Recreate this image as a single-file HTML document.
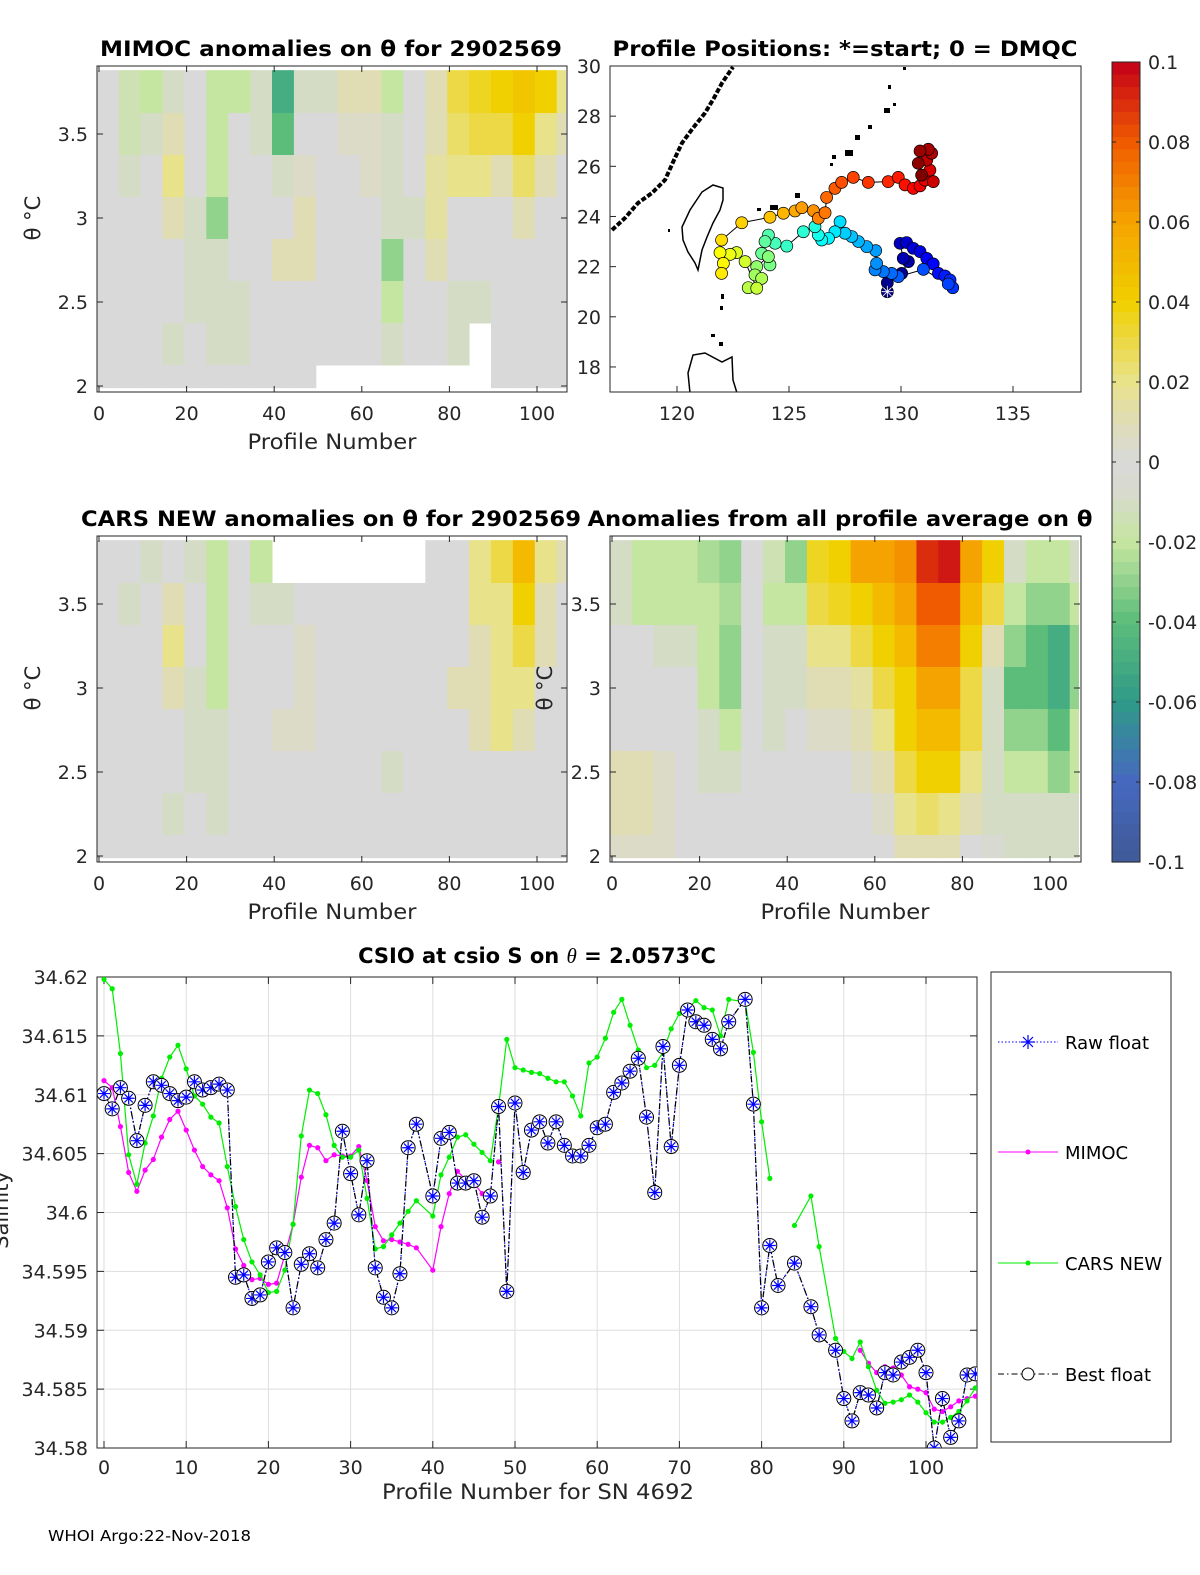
<!DOCTYPE html>
<html><head><meta charset="utf-8"><style>
body{margin:0;background:#fff}
svg{display:block;font-family:"DejaVu Sans","Liberation Sans",sans-serif}
.t{font-size:19px;fill:#262626}
.ttl{font-size:21px;font-weight:bold;fill:#000}
</style></head><body>
<svg id="fig" width="1200" height="1575" viewBox="0 0 1200 1575">
<defs>
<clipPath id="c1"><rect x="97" y="66" width="470" height="326"/></clipPath>
<clipPath id="c2"><rect x="97" y="536" width="470" height="326"/></clipPath>
<clipPath id="c4"><rect x="610" y="536" width="471" height="326"/></clipPath>
<clipPath id="cm"><rect x="610" y="66" width="471" height="326"/></clipPath>
<clipPath id="cb"><rect x="97" y="977" width="880" height="471"/></clipPath>
</defs>
<g id="heat1" clip-path="url(#c1)"></g>
<g id="heat2" clip-path="url(#c2)"></g>
<g id="heat4" clip-path="url(#c4)"></g>
<g id="ax1"></g>
<g id="ax2"></g>
<g id="ax4"></g>
<g id="map">
 <g clip-path="url(#cm)" fill="none" stroke="#000" stroke-width="1.5">
  <polyline points="612,230 625,218 638,203 652,193 665,180 674,160 682,143 693,128 705,113 714,98 722,83 733,67" stroke-width="4" stroke-dasharray="5,2"/>
  <polygon points="713,185 723,188 723,200 720,210 713,223 707,237 702,250 698,270 695,263 688,252 683,240 682,227 690,210 702,192"/>
  <polyline points="690,393 688,373 693,355 705,353 722,362 732,357 733,380 737,393"/>
  <g fill="#000" stroke="none">
   <rect x="903" y="67" width="3" height="3"/><rect x="888" y="85" width="3" height="4"/><rect x="893" y="103" width="3" height="3"/>
   <rect x="884" y="108" width="6" height="5"/><rect x="868" y="125" width="4" height="4"/><rect x="855" y="135" width="5" height="5"/>
   <rect x="845" y="150" width="8" height="6"/><rect x="832" y="155" width="4" height="4"/><rect x="830" y="163" width="3" height="3"/>
   <rect x="795" y="193" width="5" height="5"/><rect x="770" y="205" width="8" height="5"/><rect x="757" y="208" width="4" height="3"/>
   <rect x="721" y="294" width="3" height="5"/><rect x="720" y="306" width="3" height="4"/><rect x="711" y="334" width="4" height="3"/><rect x="719" y="342" width="4" height="4"/><rect x="668" y="229" width="2" height="3"/>
  </g>
 </g>
 <g id="track" clip-path="url(#cm)"></g>
</g>
<g id="cbar"></g>
<g id="bottom"></g>
<text x="48" y="1541" font-size="15" fill="#000" textLength="203" lengthAdjust="spacingAndGlyphs">WHOI Argo:22-Nov-2018</text>
</svg>
<script>
// ---------- heatmap data (anomaly x100, row-major top->bottom) ----------
const colEdges=[-0.5,4.5,9.5,14.5,19.5,24.5,29.5,34.5,39.5,44.5,49.5,54.5,59.5,64.5,69.5,74.5,79.5,84.5,89.5,94.5,99.5,104.5,106.5];
const rowEdges=[3.88,3.625,3.375,3.125,2.875,2.625,2.375,2.125,1.99];
const mimocGrid=[
[0,-1.5,-2,-1,0,-2,-2,-1,-5,-1,-1,1,1,-2,0,1,3,3.5,4,4.5,4,2],
[0,-1.5,-1,1,0,-2,0,-1,-4,0,0,0.5,0.5,-1,0,1,2.5,3,3,4,2,1],
[0,-1,0,2,0,-2,0,0,-1,0.5,0,0,0.5,-1,0,1.5,2,2,1,2.5,1,0],
[0,0,0,1,-1,-3,0,0,0,1,0,0,0,-1,-1,1.5,0,0,0,1,0,0],
[0,0,0,0,-1,-1,0,0,1,1,0,0,0,-3,0,1,0,0,0,0,0,0],
[0,0,0,0,-1,-1,-1,0,0,0,0,0,0,-2,0,0,-1,-1,0,0,0,0],
[0,0,0,-1,0,-1,-1,0,0,0,0,0,0,-1,0,0,-1,null,0,0,0,0],
[0,0,0,0,0,0,0,0,0,0,null,null,null,null,null,null,null,null,0,0,0,0]];
const carsGrid=[
[0,0,-1,0,-1,-2,0,-2,null,null,null,null,null,null,null,0,0,2,3,5,2,1],
[0,-1,0,1,0,-2,0,-1,-1,0,0,0,0,0,0,0,0,2,2,4,1,0],
[0,0,0,2,0,-2,0,0,0,0.5,0,0,0,0,0,0,0,1,2,3,1,0],
[0,0,0,1,-1,-2,0,0,0,0.5,0,0,0,0,0,0,1,1,2,2,0,0],
[0,0,0,0,-1,-1,0,0,0.5,0.5,0,0,0,0,0,0,0,1,2,1,0,0],
[0,0,0,0,-1,-1,0,0,0,0,0,0,0,-1,0,0,0,0,0,0,0,0],
[0,0,0,-1,0,-1,0,0,0,0,0,0,0,0,0,0,0,0,0,0,0,0],
[0,0,0,0,0,0,0,0,0,0,0,0,0,0,0,0,0,0,0,0,0,0]];
const allGrid=[
[-1,-2,-2,-2,-2.5,-3,0,-1.5,-3,3.5,4,6,6,6.5,9,9.5,6,4,-1,-2,-2,-1],
[-1,-2,-2,-2,-2,-2.5,0,-2,-2,3,3.5,4,5,6,8,8,5,3,-2,-3,-3,-2],
[0,0,-1,-1,-2,-3,0,-1,-1,2,2,3,4,5,7,7,4,1,-3,-4,-5,-3],
[0,0,0,0,-2,-3,0,-1,-1,1,1,1.5,3,4,6,6,3,-1,-4,-4,-5,-3],
[0,0,0,0,-1,-2,0,-1,0,0.5,0.5,1,2,4,5,5,3,-1,-3,-3,-4,-2],
[1,1,0.5,0,-1,-1,0,0,0,0,0,0.5,1,3,4,4,2,-1,-2,-2,-3,-2],
[1,1,0.5,0,0,0,0,0,0,0,0,0,0.5,2,2.5,2,1,-1,-1,-1,-1,-1],
[0.5,0.5,0.5,0,0,0,0,0,0,0,0,0,0,1,1,1,0,-0.5,-1,-1,-1,-1]];
// ---------- track data ----------
const trackLon=[129.39,129.39,130.03,130.33,130.10,129.96,130.25,130.55,130.85,131.15,131.44,131.67,131.96,132.19,132.31,132.11,131.00,129.88,129.58,129.21,128.84,128.91,128.87,128.47,128.10,127.80,127.50,127.28,127.05,126.76,126.46,126.31,126.16,125.64,124.90,124.38,124.08,123.93,123.78,124.15,124.08,123.56,123.48,123.78,123.18,123.56,123.04,122.66,122.37,121.92,122.07,121.99,121.99,122.89,124.15,124.75,125.27,125.57,126.09,126.31,126.61,126.68,127.05,127.35,127.87,128.54,129.43,129.88,130.18,130.55,130.85,131.07,131.29,131.44,131.15,131.37,131.22,130.85,130.77,130.92];
const trackLat=[21.00,21.36,21.73,22.20,22.33,22.93,22.96,22.73,22.60,22.33,22.11,21.73,21.63,21.47,21.16,21.31,21.89,21.60,21.73,21.80,21.87,22.13,22.64,22.80,23.00,23.20,23.33,23.79,23.39,23.13,23.06,23.26,23.59,23.39,22.82,22.93,23.26,23.00,22.53,22.07,22.40,22.00,21.67,21.53,21.16,21.14,22.20,22.56,22.49,22.56,22.13,21.73,23.06,23.75,23.97,24.13,24.22,24.35,24.23,23.93,24.15,24.76,25.12,25.36,25.56,25.36,25.39,25.56,25.26,25.12,25.22,25.45,25.85,25.39,26.25,26.52,26.68,26.61,26.12,25.65];
// ---------- salinity chart data ----------
const profiles=[0,1,2,3,4,5,6,7,8,9,10,11,12,13,14,15,16,17,18,19,20,21,22,23,24,25,26,27,28,29,30,31,32,33,34,35,36,37,38,40,41,42,43,44,45,46,47,48,49,50,51,52,53,54,55,56,57,58,59,60,61,62,63,64,65,66,67,68,69,70,71,72,73,74,75,76,78,79,80,81,82,84,86,87,89,90,91,92,93,94,95,96,97,98,99,100,101,102,103,104,105,106];
const bestFloat=[34.6101,34.6088,34.6106,34.6097,34.6061,34.6091,34.6111,34.6108,34.6101,34.6095,34.6098,34.6111,34.6104,34.6106,34.6109,34.6104,34.5945,34.5947,34.5927,34.5930,34.5958,34.5970,34.5966,34.5919,34.5956,34.5965,34.5953,34.5977,34.5991,34.6069,34.6033,34.5998,34.6044,34.5953,34.5928,34.5919,34.5948,34.6055,34.6075,34.6014,34.6063,34.6068,34.6025,34.6025,34.6027,34.5996,34.6014,34.6090,34.5933,34.6093,34.6034,34.6070,34.6077,34.6059,34.6077,34.6057,34.6048,34.6048,34.6057,34.6072,34.6075,34.6102,34.6110,34.6120,34.6131,34.6081,34.6017,34.6141,34.6056,34.6125,34.6172,34.6162,34.6159,34.6147,34.6139,34.6162,34.6181,34.6092,34.5919,34.5972,34.5938,34.5957,34.5920,34.5896,34.5883,34.5842,34.5823,34.5847,34.5845,34.5834,34.5864,34.5862,34.5873,34.5877,34.5883,34.5864,34.5800,34.5842,34.5809,34.5823,34.5862,34.5863];
const mimoc=[34.6112,34.6106,34.6073,34.6034,34.6018,34.6036,34.6045,34.6064,34.6079,34.6086,34.6070,34.6053,34.6039,34.6032,34.6027,34.6004,34.5969,34.5955,34.5943,34.5944,34.5939,34.5940,34.5964,34.5990,34.6030,34.6057,34.6055,34.6044,34.6049,34.6048,34.6048,34.6056,34.6027,34.5988,34.5976,34.5977,34.5975,34.5973,34.5970,34.5951,34.5988,34.6016,34.6035,34.6028,34.6025,34.6016,null,34.6043,null,null,null,null,null,null,null,null,null,null,null,null,null,null,null,null,null,null,null,null,null,null,null,null,null,null,null,null,null,null,null,null,null,null,null,null,null,null,null,34.5883,34.5872,34.5864,34.5869,34.5868,34.5862,34.5852,34.5850,34.5847,34.5833,34.5831,34.5835,34.5840,34.5842,34.5844];
const carsNew=[34.6198,34.6190,34.6135,34.6049,34.6024,34.6059,34.6082,34.6114,34.6132,34.6142,34.6122,34.6099,34.6092,34.6081,34.6076,34.6039,34.6005,34.5977,34.5958,34.5947,34.5932,34.5933,34.5951,34.5990,34.6065,34.6104,34.6101,34.6083,34.6057,34.6047,34.6047,34.6053,34.6012,34.5969,34.5971,34.5981,34.5991,34.6001,34.6010,34.5997,34.6032,34.6047,34.6064,34.6066,34.6058,34.6051,34.6044,34.6090,34.6147,34.6123,34.6121,34.6119,34.6118,34.6114,34.6111,34.6111,34.6099,34.6082,34.6127,34.6132,34.6148,34.6170,34.6181,34.6159,34.6138,34.6123,34.6125,34.6136,34.6156,34.6169,34.6173,34.6180,34.6174,34.6172,34.6150,34.6181,34.6179,34.6136,34.6077,34.6029,null,34.5989,34.6014,34.5971,34.5893,34.5882,34.5876,34.5890,34.5869,34.5849,34.5838,34.5839,34.5841,34.5845,34.5839,34.5830,34.5822,34.5822,34.5826,34.5831,34.5840,34.5851];
const salTicks=[34.58,34.585,34.59,34.595,34.6,34.605,34.61,34.615,34.62];
const profTicks=[0,10,20,30,40,50,60,70,80,90,100];
const heatTicksX=[0,20,40,60,80,100];
const thetaTicks=[2,2.5,3,3.5];
const cbTicks=[0.1,0.08,0.06,0.04,0.02,0,-0.02,-0.04,-0.06,-0.08,-0.1];
const lonTicks=[120,125,130,135];
const latTicks=[18,20,22,24,26,28,30];

const NS='http://www.w3.org/2000/svg';
function mk(tag,attrs,parent,txt){const e=document.createElementNS(NS,tag);for(const k in attrs)e.setAttribute(k,attrs[k]);if(txt!==undefined)e.textContent=txt;parent.appendChild(e);return e;}
const anchors=[[-0.1,[63,90,150]],[-0.08,[70,104,192]],[-0.06,[47,154,136]],[-0.04,[92,189,122]],[-0.02,[197,230,160]],[-0.008,[215,218,205]],[0,[217,217,217]],[0.008,[222,220,190]],[0.02,[232,226,138]],[0.04,[240,208,0]],[0.06,[245,163,0]],[0.08,[240,90,0]],[0.1,[196,0,26]]];
function cmap(v){v=Math.max(-0.1,Math.min(0.1,v));for(let i=0;i<anchors.length-1;i++){const a=anchors[i],b=anchors[i+1];if(v<=b[0]){const t=(v-a[0])/(b[0]-a[0]);const c=a[1].map((x,j)=>Math.round(x+(b[1][j]-x)*t));return 'rgb('+c.join(',')+')';}}return 'rgb(196,0,26)';}

function heat(gid,grid,x0,ybase){
 const g=document.getElementById(gid);
 const xs=p=>x0+4.38*p, ys=t=>ybase-(t-2)*168;
 for(let r=0;r<grid.length;r++)for(let c=0;c<grid[r].length;c++){
  const v=grid[r][c]; if(v===null)continue;
  const x1=xs(colEdges[c]),x2=xs(colEdges[c+1]),y1=ys(rowEdges[r]),y2=ys(rowEdges[r+1]);
  const rc=mk('rect',{x:x1,y:y1,width:x2-x1+0.5,height:y2-y1+0.5,fill:cmap(v/100)},g);
  
  
 }
}
heat('heat1',mimocGrid,99,386);
heat('heat2',carsGrid,99,856);
heat('heat4',allGrid,612,856);

function heatAxes(gid,bx,by,x0,ybase,title,tx,tw,ylabX,tickX){
 const g=document.getElementById(gid);
 mk('rect',{x:bx,y:by,width:470,height:326,fill:'none',stroke:'#262626','stroke-width':1},g);
 heatTicksX.forEach(p=>{const x=x0+4.38*p;mk('line',{x1:x,x2:x,y1:by+326,y2:by+320,stroke:'#262626'},g);mk('line',{x1:x,x2:x,y1:by,y2:by+6,stroke:'#262626'},g);
  const t=mk('text',{x:x,y:by+354,'text-anchor':'middle',class:'t'},g,String(p));});
 thetaTicks.forEach(v=>{const y=ybase-(v-2)*168;mk('line',{x1:bx,x2:bx+6,y1:y,y2:y,stroke:'#262626'},g);mk('line',{x1:bx+470,x2:bx+464,y1:y,y2:y,stroke:'#262626'},g);
  const t=mk('text',{x:tickX,y:y+7,'text-anchor':'end',class:'t'},g,String(v));});
 const xl=mk('text',{x:bx+235,y:by+383,'text-anchor':'middle','font-size':21,fill:'#262626',textLength:169,lengthAdjust:'spacingAndGlyphs'},g,'Profile Number');
 const tt=mk('text',{x:tx,y:by-10,'text-anchor':'middle',class:'ttl',textLength:tw,lengthAdjust:'spacingAndGlyphs'},g,title);
 const yl=mk('text',{x:ylabX,y:ybase-168,'text-anchor':'middle','font-size':21,fill:'#262626',transform:'rotate(-90 '+ylabX+' '+(ybase-168)+')'},g,'θ °C');
}
heatAxes('ax1',97,66,99,386,'MIMOC anomalies on θ  for 2902569',331,462,40,88);
heatAxes('ax2',97,536,99,856,'CARS NEW anomalies on θ for 2902569',331,500,40,88);
heatAxes('ax4',610,536,612,856,'Anomalies from all profile average on θ',840,505,552,601);
document.querySelector('#ax4 rect').setAttribute('width',471);

(function(){
 const g=document.getElementById('map');
 const lx=l=>677+(l-120)*22.4, ly=l=>66+(30-l)*25.08;
 mk('rect',{x:610,y:66,width:471,height:326,fill:'none',stroke:'#262626'},g);
 lonTicks.forEach(v=>{const x=lx(v);mk('line',{x1:x,x2:x,y1:392,y2:386,stroke:'#262626'},g);const t=mk('text',{x:x,y:420,'text-anchor':'middle',class:'t'},g,String(v));});
 latTicks.forEach(v=>{const y=ly(v);mk('line',{x1:610,x2:616,y1:y,y2:y,stroke:'#262626'},g);const t=mk('text',{x:601,y:y+7,'text-anchor':'end',class:'t'},g,String(v));});
 const tt=mk('text',{x:845,y:56,'text-anchor':'middle',class:'ttl',textLength:465,lengthAdjust:'spacingAndGlyphs'},g,'Profile Positions: *=start; 0 = DMQC');
 const tg=document.getElementById('track');
 const pts=trackLon.map((l,i)=>lx(l)+','+ly(trackLat[i])).join(' ');
 const pl=mk('polyline',{points:pts,fill:'none',stroke:'#000','stroke-width':1},tg);
 const n=trackLon.length;
 function jet(t){const r=Math.min(1,Math.max(0,1.5-Math.abs(4*t-3))),gg=Math.min(1,Math.max(0,1.5-Math.abs(4*t-2))),b=Math.min(1,Math.max(0,1.5-Math.abs(4*t-1)));return 'rgb('+[r,gg,b].map(x=>Math.round(x*255)).join(',')+')';}
 for(let i=0;i<n;i++){const c=mk('circle',{cx:lx(trackLon[i]),cy:ly(trackLat[i]),r:6,fill:jet(i/(n-1)),stroke:'#000','stroke-width':0.7},tg);}
 const sx=lx(trackLon[0]),sy=ly(trackLat[0]);
 const st=mk('text',{x:sx,y:sy+6,'text-anchor':'middle','font-size':16,fill:'#fff','font-weight':'bold'},tg,'✳');
})();

(function(){
 const g=document.getElementById('cbar');
 const top=62,bot=862;
 for(let i=0;i<64;i++){const v=0.1-0.2*(i+0.5)/64;mk('rect',{x:1112,y:top+(bot-top)*i/64,width:28,height:(bot-top)/64+0.6,fill:cmap(v)},g);}
 mk('rect',{x:1112,y:top,width:28,height:bot-top,fill:'none',stroke:'#262626'},g);
 cbTicks.forEach(v=>{const y=top+(0.1-v)/0.2*(bot-top);mk('line',{x1:1112,x2:1116,y1:y,y2:y,stroke:'#262626'},g);mk('line',{x1:1140,x2:1136,y1:y,y2:y,stroke:'#262626'},g);
  const t=mk('text',{x:1148,y:y+7,class:'t'},g,String(v));});
})();

(function(){
 const g=document.getElementById('bottom');
 const L=97,T=977,R=977,B=1448;
 const xs=p=>104+8.22*p, ys=v=>T+(34.62-v)/0.04*(B-T);
 mk('rect',{x:L,y:T,width:R-L,height:B-T,fill:'#fff'},g);
 profTicks.forEach(p=>{const x=xs(p);mk('line',{x1:x,x2:x,y1:T,y2:B,stroke:'#dedede'},g);mk('line',{x1:x,x2:x,y1:B,y2:B-7,stroke:'#262626'},g);mk('line',{x1:x,x2:x,y1:T,y2:T+7,stroke:'#262626'},g);
  const t=mk('text',{x:x,y:B+26,'text-anchor':'middle',class:'t'},g,String(p));});
 salTicks.forEach(v=>{const y=ys(v);mk('line',{x1:L,x2:R,y1:y,y2:y,stroke:'#dedede'},g);mk('line',{x1:L,x2:L+7,y1:y,y2:y,stroke:'#262626'},g);mk('line',{x1:R,x2:R-7,y1:y,y2:y,stroke:'#262626'},g);
  const t=mk('text',{x:88,y:y+7,'text-anchor':'end',class:'t'},g,String(v));});
 mk('rect',{x:L,y:T,width:R-L,height:B-T,fill:'none',stroke:'#262626'},g);
 const pg=mk('g',{'clip-path':'url(#cb)'},g);
 function line(vals,color,dash,name){let segs=[],cur=[];vals.forEach((v,i)=>{if(v===null){if(cur.length)segs.push(cur);cur=[];}else cur.push(xs(profiles[i])+','+ys(v));});if(cur.length)segs.push(cur);
  segs.forEach(s=>{const p=mk('polyline',{points:s.join(' '),fill:'none',stroke:color,'stroke-width':1.2,'stroke-dasharray':dash},pg);});}
 line(mimoc,'#ff00ff','none','mimoc-line');
 mimoc.forEach((v,i)=>{if(v===null)return;const c=mk('circle',{cx:xs(profiles[i]),cy:ys(v),r:2.6,fill:'#ff00ff'},pg);});
 line(carsNew,'#00ee00','none','cars-new-line');
 carsNew.forEach((v,i)=>{if(v===null)return;const c=mk('circle',{cx:xs(profiles[i]),cy:ys(v),r:2.6,fill:'#00ee00'},pg);});
 line(bestFloat,'#0000ff','1.5,2','raw-float-line');
 line(bestFloat,'#000','6,3,1.5,3','best-float-line');
 bestFloat.forEach((v,i)=>{const x=xs(profiles[i]),y=ys(v);
  const c=mk('circle',{cx:x,cy:y,r:7,fill:'#fff',stroke:'#000','stroke-width':1},pg);
  const s=mk('path',{d:`M${x-6} ${y}H${x+6}M${x} ${y-6}V${y+6}M${x-4.2} ${y-4.2}L${x+4.2} ${y+4.2}M${x-4.2} ${y+4.2}L${x+4.2} ${y-4.2}`,stroke:'#0000ff','stroke-width':1.2},pg);});
 const tt=mk('text',{x:537,y:963,'text-anchor':'middle',class:'ttl'},g);
 tt.innerHTML='CSIO at csio S on <tspan font-style="italic" font-weight="normal" font-family="Liberation Serif, serif">θ</tspan> = 2.0573<tspan dy="-8" font-size="15">o</tspan><tspan dy="8">C</tspan>';
 const xl=mk('text',{x:538,y:1499,'text-anchor':'middle','font-size':21,fill:'#262626',textLength:312,lengthAdjust:'spacingAndGlyphs'},g,'Profile Number for SN 4692');
 const yl=mk('text',{x:8,y:1210,'text-anchor':'middle','font-size':21,fill:'#262626',transform:'rotate(-90 8 1210)'},g,'Salinity');
 const lg=mk('g',{},g);
 mk('rect',{x:991,y:972,width:180,height:470,fill:'#fff',stroke:'#262626'},lg);
 const ent=[['Raw float',1042],['MIMOC',1152],['CARS NEW',1263],['Best float',1374]];
 ent.forEach(([lab,y],k)=>{const e=mk('g',{},lg);
  if(k===0){mk('line',{x1:998,x2:1058,y1:y,y2:y,stroke:'#0000ff','stroke-dasharray':'1.5,2'},e);mk('path',{d:`M1021 ${y}h14M1028 ${y-7}v14M1023 ${y-5}l10 10M1023 ${y+5}l10 -10`,stroke:'#0000ff','stroke-width':1.2},e);}
  if(k===1){mk('line',{x1:998,x2:1058,y1:y,y2:y,stroke:'#ff00ff'},e);mk('circle',{cx:1028,cy:y,r:2.5,fill:'#ff00ff'},e);}
  if(k===2){mk('line',{x1:998,x2:1058,y1:y,y2:y,stroke:'#00ee00'},e);mk('circle',{cx:1028,cy:y,r:2.5,fill:'#00ee00'},e);}
  if(k===3){mk('line',{x1:998,x2:1058,y1:y,y2:y,stroke:'#000','stroke-dasharray':'6,3,1.5,3'},e);mk('circle',{cx:1028,cy:y,r:6,fill:'#fff',stroke:'#000'},e);}
  mk('text',{x:1065,y:y+7,'font-size':18,fill:'#000'},e,lab);});
})();
</script>
</body></html>
